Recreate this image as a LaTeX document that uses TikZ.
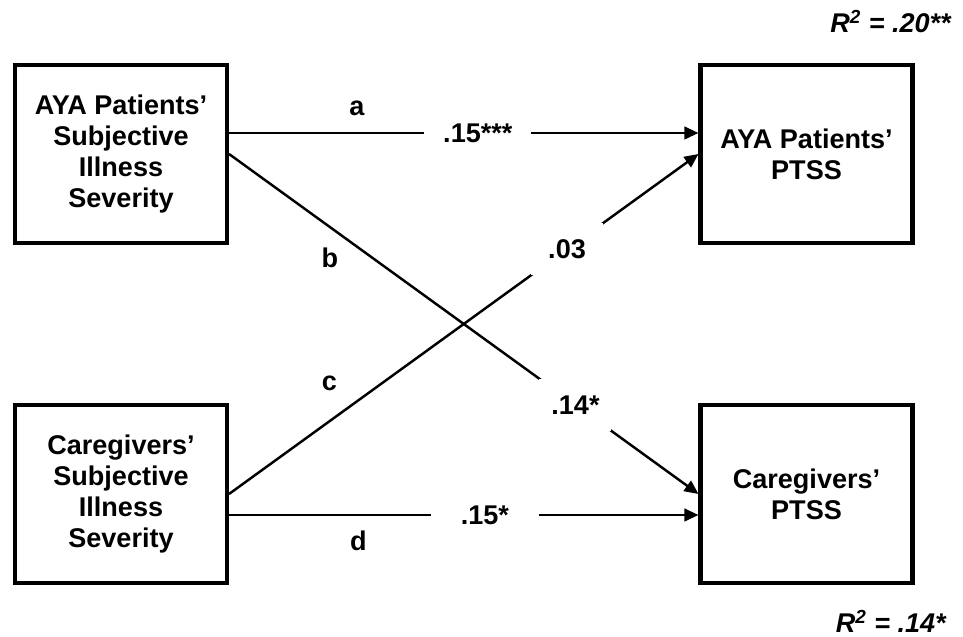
\documentclass[tikz,border=0pt]{standalone}
\usepackage{fontspec}
\setmainfont{Liberation Sans}
\usepackage{tikz}
\usetikzlibrary{arrows.meta,calc,positioning}

\begin{document}
\begin{tikzpicture}[scale=1.0, every node/.style={font=\fontsize{15.4}{17.6}\selectfont\bfseries},
  degisken/.style={draw,line width=2.3pt,minimum width=4.24cm,
               minimum height=3.56cm,align=center,inner sep=0pt},
  yol/.style={-{Triangle[length=0.28cm,width=0.25cm]},line width=1.4pt},
  katsayi/.style={fill=white,inner sep=0pt},
  capraz/.style={katsayi,minimum width=1.44cm,minimum height=1.04cm}]
\useasboundingbox (0,0) rectangle (19.26,12.74);
\node[degisken] (ai) at (2.42,9.66) {AYA Patients’\\ Subjective\\ Illness\\ Severity};
\node[degisken] (ci) at (2.42,2.86) {Caregivers’\\ Subjective\\ Illness\\ Severity};
\node[degisken] (ap) at (16.13,9.66) {AYA Patients’\\ PTSS};
\node[degisken] (cp) at (16.13,2.86) {Caregivers’\\ PTSS};
\draw[yol] ($(ai.east)+(0,0.42)$) -- node[katsayi,pos=0.53,minimum width=2.14cm]{.15***} ($(ap.west)+(0,0.42)$);
\draw[yol] (ai.east) -- node[capraz,pos=0.738]{.14*} (cp.west);
\draw[yol] (ci.east) -- node[capraz,pos=0.72]{.03} (ap.west);
\draw[yol] ($(ci.east)+(0,-0.42)$) -- node[katsayi,pos=0.545,minimum width=2.16cm]{.15*} ($(cp.west)+(0,-0.42)$);
\node (la) at (7.14,10.58) {a};
\node (lb) at (6.60,7.58) {b};
\node (lc) at (6.59,5.07) {c};
\node (ld) at (7.17,1.92) {d};
\node[anchor=base east] (r1) at (19.14,12.08) {\itshape R\textsuperscript{2} = .20**};
\node[anchor=base east] (r2) at (19.04,0.08) {\itshape R\textsuperscript{2} = .14*};
\end{tikzpicture}
\end{document}
